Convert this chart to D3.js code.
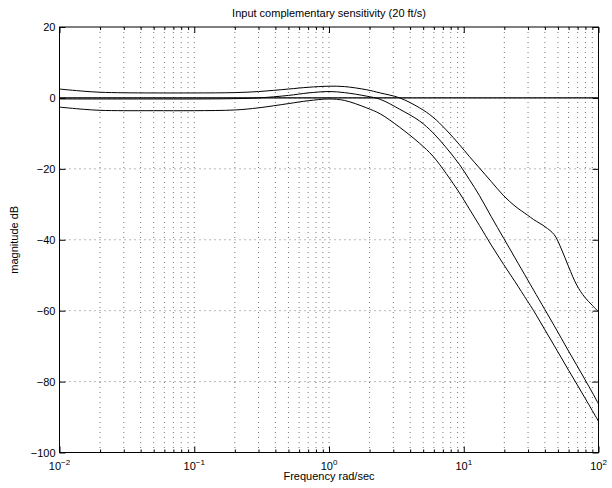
<!DOCTYPE html>
<html>
<head>
<meta charset="utf-8">
<script src="https://cdn.jsdelivr.net/npm/d3@7"></script>
<style>
  body { margin: 0; background: #fff; }
  svg { font-family: "Liberation Sans", Arial, sans-serif; }
  .grid line { stroke: #000; stroke-opacity: 0.55; stroke-dasharray: 1,4; }
  .axis path { display: none; }
  .axis line { stroke: #000; }
</style>
</head>
<body>
<svg id="chart" width="612" height="488"></svg>
<script>
// frequency points (rad/sec)
const freq = [0.01, 0.015, 0.02, 0.03, 0.05, 0.1, 0.2, 0.3, 0.5, 0.7, 1, 1.3, 1.9, 2.4, 3.35, 4.7, 5.9, 7.4, 9.3, 11, 13.1, 16, 19.8, 24, 29.6, 33, 40, 47, 53, 60, 69, 79, 90, 100];
// magnitude dB of each curve
const upperDb = [2.5, 1.9, 1.6, 1.45, 1.4, 1.4, 1.5, 1.8, 2.5, 3.0, 3.3, 3.2, 2.3, 1.4, 0, -2.8, -5.4, -9.0, -13.2, -16.5, -19.8, -23.6, -27.6, -30.5, -33, -34.3, -36.3, -38.6, -42.6, -47.6, -52.8, -56.2, -58.5, -60.3];
const middleDb = [-0.3, -0.3, -0.3, -0.3, -0.3, -0.3, -0.2, 0, 0.7, 1.4, 1.8, 1.5, 0.5, -0.4, -3.2, -6.5, -9.8, -14.0, -18.8, -23.0, -27.6, -33.5, -39.6, -45.1, -51.1, -54.2, -59.7, -64.3, -67.8, -71.4, -75.4, -79.3, -83.1, -86.3];
const lowerDb = [-2.6, -3.2, -3.5, -3.6, -3.6, -3.6, -3.4, -2.8, -1.6, -0.8, -0.3, -0.7, -2.8, -4.5, -8.3, -12.8, -16.4, -21.3, -26.8, -31.3, -36, -41.5, -47, -51.8, -57.2, -60, -65.4, -69.9, -73.3, -76.8, -80.7, -84.5, -88.2, -91.2];
const xDecades = [-2, -1, 0, 1, 2];
const yTicks = [-100, -80, -60, -40, -20, 0, 20];

const svg = d3.select('#chart');
const pLeft = 59.5, pRight = 598.5, pTop = 27, pBottom = 452.5;

const x = d3.scaleLog().domain([1e-2, 1e2]).range([pLeft, pRight]);
const y = d3.scaleLinear().domain([-100, 20]).range([pBottom, pTop]);

// all decade + minor positions
const minorTicks = [];
for (let e = -2; e < 2; e++) {
    for (let m = 1; m < 10; m++) minorTicks.push(m * Math.pow(10, e));
}
minorTicks.push(100);
const majorTicks = xDecades.map(e => Math.pow(10, e));
const isMajor = d => majorTicks.some(m => Math.abs(m - d) < 1e-9);

// dotted grid
const grid = svg.append('g').attr('class', 'grid');
grid.selectAll('.vx')
    .data(minorTicks.filter(d => d > 0.0101 && d < 99))
    .enter().append('line')
    .attr('x1', d => x(d)).attr('x2', d => x(d))
    .attr('y1', pTop).attr('y2', pBottom);
grid.selectAll('.hy')
    .data(yTicks.filter(d => d > -100 && d < 20))
    .enter().append('line')
    .attr('x1', pLeft).attr('x2', pRight)
    .attr('y1', d => y(d)).attr('y2', d => y(d));

// inward ticks on all four sides
const minorOnly = minorTicks.filter(d => !isMajor(d));
svg.append('g').attr('class', 'axis')
    .attr('transform', `translate(0,${pBottom})`)
    .call(d3.axisBottom(x).tickValues(minorOnly).tickSize(-3).tickFormat(''));
svg.append('g').attr('class', 'axis')
    .attr('transform', `translate(0,${pBottom})`)
    .call(d3.axisBottom(x).tickValues(majorTicks).tickSize(-6).tickFormat(''));
svg.append('g').attr('class', 'axis')
    .attr('transform', `translate(0,${pTop})`)
    .call(d3.axisTop(x).tickValues(minorOnly).tickSize(-3).tickFormat(''));
svg.append('g').attr('class', 'axis')
    .attr('transform', `translate(0,${pTop})`)
    .call(d3.axisTop(x).tickValues(majorTicks).tickSize(-6).tickFormat(''));
svg.append('g').attr('class', 'axis')
    .attr('transform', `translate(${pLeft},0)`)
    .call(d3.axisLeft(y).tickValues(yTicks).tickSize(-6).tickFormat(''));
svg.append('g').attr('class', 'axis')
    .attr('transform', `translate(${pRight},0)`)
    .call(d3.axisRight(y).tickValues(yTicks).tickSize(-6).tickFormat(''));

// curves
svg.append('clipPath').attr('id', 'plot-clip')
    .append('rect').attr('x', pLeft).attr('y', pTop)
    .attr('width', pRight - pLeft).attr('height', pBottom - pTop);

const line = d3.line()
    .x(d => x(d[0]))
    .y(d => y(d[1]))
    .curve(d3.curveCatmullRom.alpha(0.5));

const curves = svg.append('g').attr('clip-path', 'url(#plot-clip)');
[upperDb, middleDb, lowerDb].forEach(series => {
    curves.append('path')
        .datum(freq.map((f, i) => [f, series[i]]))
        .attr('d', line)
        .attr('fill', 'none')
        .attr('stroke', '#000')
        .attr('stroke-width', 1);
});
// unity (0 dB) line
curves.append('line')
    .attr('x1', pLeft).attr('x2', pRight)
    .attr('y1', y(0)).attr('y2', y(0))
    .attr('stroke', '#000').attr('stroke-width', 1.3);

// frame
svg.append('rect')
    .attr('x', pLeft).attr('y', pTop)
    .attr('width', pRight - pLeft).attr('height', pBottom - pTop)
    .attr('fill', 'none').attr('stroke', '#000').attr('stroke-width', 1);

// tick labels
svg.selectAll('.ylab')
    .data(yTicks)
    .enter().append('text')
    .attr('x', pLeft - 4)
    .attr('y', d => y(d) + 4)
    .attr('text-anchor', 'end')
    .attr('font-size', 11)
    .text(d => d < 0 ? '\u2212' + Math.abs(d) : d);

const xl = svg.selectAll('.xlab')
    .data(xDecades)
    .enter().append('text')
    .attr('x', d => x(Math.pow(10, d)))
    .attr('y', pBottom + 17)
    .attr('text-anchor', 'middle')
    .attr('font-size', 11);
xl.append('tspan').text('10');
xl.append('tspan')
    .attr('dy', -5)
    .attr('font-size', 8)
    .text(d => d < 0 ? '\u2212' + Math.abs(d) : d);

// titles
svg.append('text')
    .attr('x', (pLeft + pRight) / 2).attr('y', 17)
    .attr('text-anchor', 'middle').attr('font-size', 11)
    .text('Input complementary sensitivity (20 ft/s)');
svg.append('text')
    .attr('x', (pLeft + pRight) / 2).attr('y', 480)
    .attr('text-anchor', 'middle').attr('font-size', 11)
    .text('Frequency rad/sec');
svg.append('text')
    .attr('transform', `translate(18,${(pTop + pBottom) / 2}) rotate(-90)`)
    .attr('text-anchor', 'middle').attr('font-size', 11)
    .text('magnitude dB');
</script>
</body>
</html>
